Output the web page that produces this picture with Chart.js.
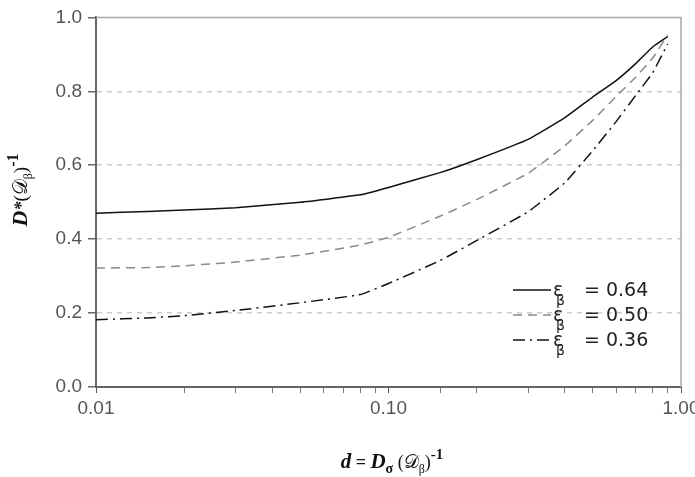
<!DOCTYPE html>
<html>
<head>
<meta charset="utf-8">
<script src="https://cdn.jsdelivr.net/npm/chart.js@4.4.1/dist/chart.umd.min.js"></script>
<style>
  html, body { margin: 0; padding: 0; background: #fff; }
  #ChartCanvas { display: block; }
</style>
</head>
<body>
<canvas id="ChartCanvas" width="695" height="477"></canvas>
<script>
// d = D_sigma / D_beta (log axis)
var dRatio = [0.01, 0.015, 0.02, 0.03, 0.05, 0.08, 0.1, 0.15, 0.2, 0.3, 0.4, 0.5, 0.6, 0.7, 0.8, 0.9];
// D* / D_beta for the three porosities
var eps064 = [0.470, 0.475, 0.479, 0.485, 0.500, 0.520, 0.540, 0.580, 0.615, 0.670, 0.728, 0.785, 0.829, 0.875, 0.920, 0.948];
var eps050 = [0.322, 0.323, 0.328, 0.338, 0.357, 0.384, 0.405, 0.462, 0.507, 0.578, 0.652, 0.722, 0.786, 0.838, 0.890, 0.952];
var eps036 = [0.182, 0.187, 0.193, 0.207, 0.228, 0.250, 0.280, 0.342, 0.396, 0.474, 0.552, 0.640, 0.718, 0.789, 0.850, 0.928];
var epsLabels = ['0.64', '0.50', '0.36'];
var xTickLabels = ['0.01', '0.10', '1.00'];
var yMin = 0, yMax = 1.0, yStep = 0.2;

var chartContext = document.getElementById("ChartCanvas").getContext("2d");

function toPoints(values) {
    return values.map(function (v, i) { return { x: dRatio[i], y: v }; });
}

// draws a list of text runs [text, font, dy] centred on x
function drawRich(ctx, runs, x, y) {
    var total = 0;
    runs.forEach(function (r) { ctx.font = r[1]; total += ctx.measureText(r[0]).width; });
    var cx = x - total / 2;
    runs.forEach(function (r) {
        ctx.font = r[1];
        ctx.fillText(r[0], cx, y + (r[2] || 0));
        cx += ctx.measureText(r[0]).width;
    });
}

var serif = '"Liberation Serif", "DejaVu Serif", serif';
var sans = '"Liberation Sans", Arial, sans-serif';

var decorPlugin = {
    id: 'decor',
    beforeDatasetsDraw: function (chart) {
        var ctx = chart.ctx, a = chart.chartArea;
        // light frame on top and right
        ctx.save();
        ctx.strokeStyle = '#a8a8a8';
        ctx.lineWidth = 1.5;
        ctx.beginPath();
        ctx.moveTo(a.left, a.top);
        ctx.lineTo(a.right, a.top);
        ctx.lineTo(a.right, a.bottom);
        ctx.stroke();
        ctx.restore();
    },
    afterDraw: function (chart) {
        var ctx = chart.ctx, a = chart.chartArea;
        ctx.save();
        ctx.fillStyle = '#111';
        ctx.textBaseline = 'alphabetic';

        // x axis title
        drawRich(ctx, [
            ['d', 'bold italic 21px ' + serif],
            [' = ', 'bold 18px ' + serif],
            ['D', 'bold italic 21px ' + serif],
            ['σ', 'bold 14px ' + serif, 5],
            [' (', '18px ' + serif],
            ['𝒟', '19px ' + serif],
            ['β', '12px ' + serif, 5],
            [')', '18px ' + serif],
            ['-1', 'bold 15px ' + serif, -9]
        ], 392, 468);

        // y axis title (rotated)
        ctx.translate(27, 190);
        ctx.rotate(-Math.PI / 2);
        drawRich(ctx, [
            ['D', 'bold italic 22px ' + serif],
            ['*', 'bold italic 18px ' + serif],
            ['(', '19px ' + serif],
            ['𝒟', '20px ' + serif],
            ['β', '12px ' + serif, 5],
            [')', '19px ' + serif],
            ['-1', 'bold 16px ' + serif, -9]
        ], 0, 0);
        ctx.restore();

        // legend inside the plot
        ctx.save();
        var lx = a.right - 168;
        chart.data.datasets.forEach(function (ds, i) {
            var ly = a.bottom - 97 + i * 25;
            ctx.strokeStyle = ds.borderColor;
            ctx.lineWidth = 1.5;
            ctx.setLineDash(ds.borderDash || []);
            ctx.beginPath();
            ctx.moveTo(lx, ly);
            ctx.lineTo(lx + 38, ly);
            ctx.stroke();
            ctx.setLineDash([]);
            ctx.fillStyle = '#222';
            ctx.textBaseline = 'middle';
            ctx.font = '19px "DejaVu Sans", sans-serif';
            ctx.fillText('ε', lx + 40, ly + 1);
            ctx.font = '14px "DejaVu Sans", sans-serif';
            ctx.fillText('β', lx + 43, ly + 11);
            ctx.font = '19px "DejaVu Sans", sans-serif';
            ctx.fillText('= ' + epsLabels[i], lx + 71, ly + 1);
        });
        ctx.restore();
    }
};

function isDecade(value) {
    var l = Math.log10(value);
    return Math.abs(l - Math.round(l)) < 1e-6;
}

var config = {
    type: 'line',
    data: {
        datasets: [
            {
                label: 'εβ = ' + epsLabels[0],
                data: toPoints(eps064),
                borderColor: '#111',
                borderWidth: 1.5
            },
            {
                label: 'εβ = ' + epsLabels[1],
                data: toPoints(eps050),
                borderColor: '#8a8a8a',
                borderWidth: 1.5,
                borderDash: [9, 6]
            },
            {
                label: 'εβ = ' + epsLabels[2],
                data: toPoints(eps036),
                borderColor: '#111',
                borderWidth: 1.5,
                borderDash: [12, 5, 2, 5]
            }
        ]
    },
    options: {
        responsive: false,
        animation: false,
        layout: { padding: { top: 15, right: 14, left: 0, bottom: 0 } },
        elements: { point: { radius: 0 }, line: { tension: 0.1, fill: false } },
        plugins: { legend: { display: false }, tooltip: { enabled: false } },
        scales: {
            x: {
                type: 'logarithmic',
                min: 0.01,
                max: 1,
                afterFit: function (scale) {
                    scale.height = 90;
                    // let the last label run off the edge like the original
                    scale.paddingLeft = 0;
                    scale.paddingRight = 0;
                },
                grid: {
                    drawOnChartArea: false,
                    drawTicks: true,
                    tickLength: 6,
                    tickColor: function (ctx) { return isDecade(ctx.tick.value) ? '#555' : '#777'; },
                    tickWidth: 1
                },
                border: { color: '#666', width: 2 },
                ticks: {
                    autoSkip: false,
                    maxRotation: 0,
                    padding: 4,
                    color: '#555',
                    font: { family: sans, size: 19 },
                    callback: function (value) {
                        if (!isDecade(value)) return '';
                        return xTickLabels[Math.round(Math.log10(value)) + 2];
                    }
                }
            },
            y: {
                min: yMin,
                max: yMax,
                afterFit: function (scale) { scale.width = 96; },
                grid: {
                    color: function (ctx) {
                        var v = ctx.tick.value;
                        return (v > 0.01 && v < 0.99) ? '#cccccc' : 'rgba(0,0,0,0)';
                    },
                    lineWidth: 1.5,
                    tickLength: 8,
                    tickColor: '#666',
                    tickWidth: 1.5
                },
                border: { color: '#666', width: 2, dash: [5, 5] },
                ticks: {
                    stepSize: yStep,
                    padding: 6,
                    color: '#555',
                    font: { family: sans, size: 19 },
                    callback: function (value) { return value.toFixed(1); }
                }
            }
        }
    },
    plugins: [decorPlugin]
};

var createdChart = new Chart(chartContext, config);
</script>
</body>
</html>
